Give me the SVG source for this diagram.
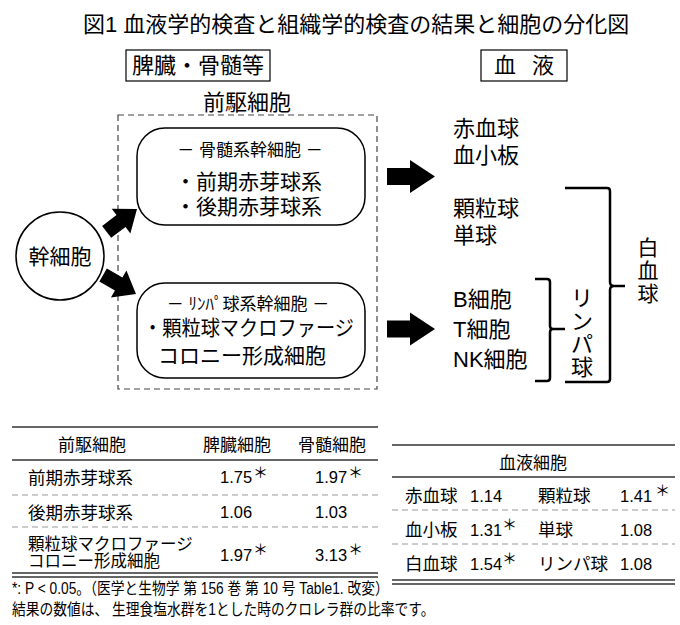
<svg xmlns="http://www.w3.org/2000/svg" width="680" height="625" viewBox="0 0 680 625">
<defs>
<style>
text{font-family:"Liberation Sans","Noto Sans CJK JP",sans-serif;fill:#000}
.t{font-size:22px}
.lbl{font-size:22px}
.mid{text-anchor:middle}
.sub{font-size:17px}
.big{font-size:21px}
.rt{font-size:22px}
.th{font-size:17px}
.td{font-size:17.5px}
.td2{font-size:16.5px}
.num{font-size:16.5px}
.ast{font-size:15px}
.foot{font-size:16px}
.box{fill:#fff;stroke:#000;stroke-width:1.5}
.dash{fill:none;stroke:#444;stroke-width:1.2;stroke-dasharray:6 4}
.brk{fill:none;stroke:#000;stroke-width:2.5;stroke-linejoin:round}
.tl{stroke:#333;stroke-width:1.6}
.dl{stroke:#999;stroke-width:1;stroke-dasharray:6 4}
</style>
<polygon id="darr" points="-38,-7.5 -20,-7.5 -20,-15.5 0,0 -20,15.5 -20,7.5 -38,7.5" fill="#000"/>
<polygon id="rarr" points="-48,-8.5 -25,-8.5 -25,-16.5 0,0 -25,16.5 -25,8.5 -48,8.5" fill="#000"/>
</defs>

<text class="t" x="83" y="32">図1 血液学的検査と組織学的検査の結果と細胞の分化図</text>

<g id="hdr-spleen">
<rect x="126" y="50" width="144" height="31" fill="none" stroke="#000" stroke-width="1.2"/>
<text class="lbl mid" x="198" y="73">脾臓・骨髄等</text>
</g>
<g id="hdr-blood">
<rect x="481" y="50" width="86" height="31" fill="none" stroke="#000" stroke-width="1.2"/>
<text class="lbl mid" x="524" y="73" word-spacing="10">血 液</text>
</g>

<g id="precursor">
<text class="lbl mid" x="247" y="110">前駆細胞</text>
<rect class="dash" x="118" y="115" width="259" height="274"/>
</g>

<g id="stem">
<circle class="box" cx="60" cy="256" r="44"/>
<text class="big mid" x="60" y="264">幹細胞</text>
</g>

<g id="myeloid">
<rect class="box" x="137" y="128" width="228" height="97" rx="28"/>
<text class="sub mid" x="250" y="156">－ 骨髄系幹細胞 －</text>
<text class="big" x="175" y="189">・前期赤芽球系</text>
<text class="big" x="175" y="214">・後期赤芽球系</text>
</g>

<g id="lymphoid">
<rect class="box" x="137" y="283" width="228" height="95" rx="28"/>
<text class="sub mid" x="248" y="310">－ ﾘﾝﾊﾟ球系幹細胞 －</text>
<text class="big" x="143" y="335" textLength="211" lengthAdjust="spacingAndGlyphs">・顆粒球マクロファージ</text>
<text class="big" x="158" y="363">コロニー形成細胞</text>
</g>

<g id="connectors">
<use href="#darr" transform="translate(137,209) rotate(-37)"/>
<use href="#darr" transform="translate(136,294) rotate(30)"/>
<use href="#rarr" transform="translate(435,176.5)"/>
<use href="#rarr" transform="translate(435,329)"/>
<path class="brk" d="M565,188 H607 Q610,188 610,191 V282 Q610,286 614,286 H625 M614,286 Q610,286 610,290 V379 Q610,382 607,382 H565"/>
<path class="brk" d="M535,279 H547 Q550,279 550,282 V326 Q550,329 553,329 H565 M553,329 Q550,329 550,332 V378 Q550,381 547,381 H535"/>
</g>

<g id="blood-cells">
<text class="rt" x="453" y="136">赤血球</text>
<text class="rt" x="453" y="163">血小板</text>
<text class="rt" x="453" y="216">顆粒球</text>
<text class="rt" x="453" y="243">単球</text>
<text class="rt" x="453" y="307">B細胞</text>
<text class="rt" x="453" y="337">T細胞</text>
<text class="rt" x="453" y="367">NK細胞</text>
</g>

<g id="lymphocyte-label">
<text class="rt mid"><tspan x="582" y="306">リ</tspan><tspan x="582" y="329">ン</tspan><tspan x="582" y="352">パ</tspan><tspan x="582" y="375">球</tspan></text>
</g>
<g id="wbc-label">
<text class="big mid"><tspan x="648" y="255">白</tspan><tspan x="648" y="278">血</tspan><tspan x="648" y="301">球</tspan></text>
</g>

<g id="table-left">
<line class="tl" x1="12" y1="427" x2="378" y2="427"/>
<text class="th mid" x="92" y="451">前駆細胞</text>
<text class="th mid" x="237" y="451">脾臓細胞</text>
<text class="th mid" x="332" y="451">骨髄細胞</text>
<line class="tl" x1="12" y1="460" x2="378" y2="460"/>
<text class="td" x="28" y="484">前期赤芽球系</text>
<text class="num" x="220" y="483">1.75</text><text class="ast" x="253" y="478">＊</text>
<text class="num" x="315" y="483">1.97</text><text class="ast" x="348" y="478">＊</text>
<line class="dl" x1="12" y1="495" x2="378" y2="495"/>
<text class="td" x="28" y="519">後期赤芽球系</text>
<text class="num" x="220" y="518">1.06</text>
<text class="num" x="315" y="518">1.03</text>
<line class="dl" x1="12" y1="527" x2="378" y2="527"/>
<text class="td2" x="28" y="550">顆粒球マクロファージ</text>
<text class="td2" x="28" y="567">コロニー形成細胞</text>
<text class="num" x="220" y="561">1.97</text><text class="ast" x="253" y="555">＊</text>
<text class="num" x="315" y="561">3.13</text><text class="ast" x="348" y="555">＊</text>
<line class="tl" x1="12" y1="573" x2="378" y2="573"/>
<line class="tl" x1="12" y1="577" x2="378" y2="577"/>
</g>

<g id="table-right">
<line class="tl" x1="392" y1="445" x2="675" y2="445"/>
<text class="th mid" x="533" y="469">血液細胞</text>
<line class="tl" x1="392" y1="477" x2="675" y2="477"/>
<text class="td" x="405" y="502">赤血球</text>
<text class="num" x="470" y="502">1.14</text>
<text class="td" x="538" y="502">顆粒球</text>
<text class="num" x="620" y="502">1.41</text><text class="ast" x="655" y="496">＊</text>
<line class="dl" x1="392" y1="510" x2="675" y2="510"/>
<text class="td" x="405" y="536">血小板</text>
<text class="num" x="470" y="536">1.31</text><text class="ast" x="502" y="530">＊</text>
<text class="td" x="538" y="536">単球</text>
<text class="num" x="620" y="536">1.08</text>
<line class="dl" x1="392" y1="544" x2="675" y2="544"/>
<text class="td" x="405" y="570">白血球</text>
<text class="num" x="470" y="570">1.54</text><text class="ast" x="502" y="564">＊</text>
<text class="td" x="538" y="570">リンパ球</text>
<text class="num" x="620" y="570">1.08</text>
<line class="tl" x1="392" y1="580" x2="675" y2="580"/>
<line class="tl" x1="392" y1="584" x2="675" y2="584"/>
</g>

<g id="footnote">
<text class="foot" transform="translate(12,594) scale(0.86,1)">*: P &lt; 0.05。（医学と生物学 第 156 巻 第 10 号 Table1. 改変）</text>
<text class="foot" transform="translate(12,615) scale(0.86,1)">結果の数値は、 生理食塩水群を1とした時のクロレラ群の比率です。</text>
</g>
</svg>
